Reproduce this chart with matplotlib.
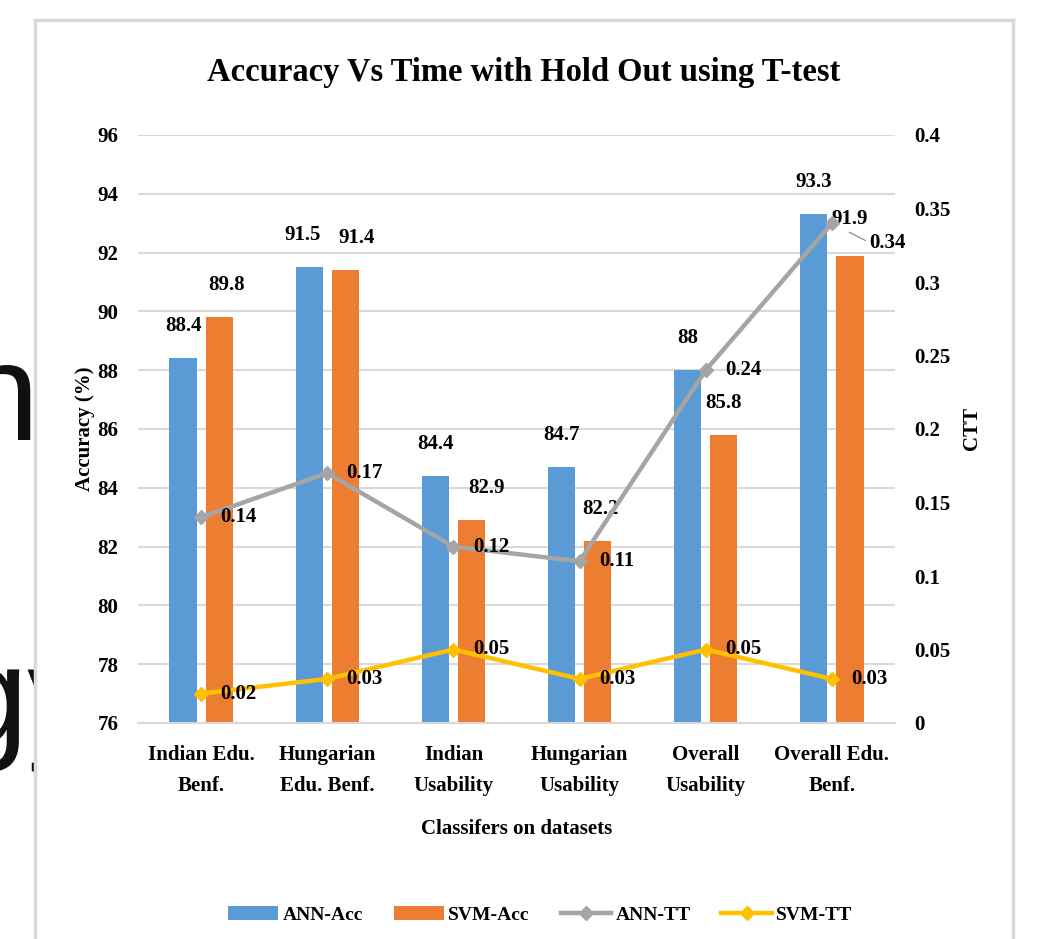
import matplotlib
matplotlib.use("Agg")
import matplotlib.pyplot as plt
import numpy as np

categories = ["Indian Edu.\nBenf.", "Hungarian\nEdu. Benf.", "Indian\nUsability",
              "Hungarian\nUsability", "Overall\nUsability", "Overall Edu.\nBenf."]
ann_acc = [88.4, 91.5, 84.4, 84.7, 88.0, 93.3]
svm_acc = [89.8, 91.4, 82.9, 82.2, 85.8, 91.9]
ann_tt = [0.14, 0.17, 0.12, 0.11, 0.24, 0.34]
svm_tt = [0.02, 0.03, 0.05, 0.03, 0.05, 0.03]
ann_acc_labels = ["88.4", "91.5", "84.4", "84.7", "88", "93.3"]
svm_acc_labels = ["89.8", "91.4", "82.9", "82.2", "85.8", "91.9"]
ann_tt_labels = ["0.14", "0.17", "0.12", "0.11", "0.24", "0.34"]
svm_tt_labels = ["0.02", "0.03", "0.05", "0.03", "0.05", "0.03"]
left_ticks = [76, 78, 80, 82, 84, 86, 88, 90, 92, 94, 96]
right_ticks = [0, 0.05, 0.1, 0.15, 0.2, 0.25, 0.3, 0.35, 0.4]
right_tick_labels = ["0", "0.05", "0.1", "0.15", "0.2", "0.25", "0.3", "0.35", "0.4"]

# label layout nudges (points)
ann_lbl_dx = [0, -5, 0, 0, 0, 0]
svm_lbl_dx = [5, 8, 11, 2, 0, 0]
svm_lbl_dy = [23, 23, 23, 23, 23, 26]

BLUE = "#5B9BD5"
ORANGE = "#ED7D31"
GRAY = "#A5A5A5"
YELLOW = "#FFC000"
GRID = "#D9D9D9"
SERIF = "Liberation Serif"

W, H = 1040, 939
fig = plt.figure(figsize=(W / 100, H / 100), dpi=100)

# background text partly hidden behind the chart frame
fig.text(-38 / W, 1 - 440 / H, "n", fontsize=100, family="Liberation Sans",
         color="#111111", zorder=0.2, va="baseline")
fig.text(-50 / W, 1 - 743 / H, "gy", fontsize=100, family="Liberation Sans",
         color="#111111", zorder=0.2, va="baseline")

# chart frame
frame = fig.add_axes([35 / W, -0.05, (1013 - 35) / W, (H - 20) / H + 0.05])
frame.set_zorder(1)
frame.set_facecolor("white")
frame.set_xticks([])
frame.set_yticks([])
for s in frame.spines.values():
    s.set_color(GRID)
    s.set_linewidth(2.5)

ax = fig.add_axes([138 / W, 216 / H, (895 - 138) / W, (723 - 135) / H])
ax.set_zorder(2)
ax.patch.set_visible(False)

x = np.arange(len(categories))
bw = 0.215
off = 0.143
b1 = ax.bar(x - off, [v - 76 for v in ann_acc], bw, bottom=76, color=BLUE, label="ANN-Acc", zorder=2)
b2 = ax.bar(x + off, [v - 76 for v in svm_acc], bw, bottom=76, color=ORANGE, label="SVM-Acc", zorder=2)
ax.set_xlim(-0.5, len(categories) - 0.5)
ax.set_ylim(76, 96)
ax.set_yticks(left_ticks)
ax.set_yticklabels([str(t) for t in left_ticks], family=SERIF, fontweight="bold", fontsize=15)
ax.yaxis.grid(True, color=GRID, linewidth=1.5, zorder=0)
ax.set_axisbelow(True)
ax.tick_params(axis="y", length=0, pad=14)
ax.tick_params(axis="x", length=0, pad=16)
ax.set_xticks(x)
ax.set_xticklabels(categories, family=SERIF, fontweight="bold", fontsize=15, linespacing=1.75)
for s in ["top", "right", "left"]:
    ax.spines[s].set_visible(False)
ax.spines["bottom"].set_color(GRID)
ax.spines["bottom"].set_linewidth(1.5)
ax.set_ylabel("Accuracy (%)", family=SERIF, fontweight="bold", fontsize=15, labelpad=2)
ax.set_xlabel("Classifers on datasets", family=SERIF, fontweight="bold", fontsize=15, labelpad=16)

for i in range(len(categories)):
    ax.annotate(ann_acc_labels[i], (x[i] - off, ann_acc[i]), xytext=(ann_lbl_dx[i], 23),
                textcoords="offset points", ha="center", va="center",
                family=SERIF, fontweight="bold", fontsize=15)
    ax.annotate(svm_acc_labels[i], (x[i] + off, svm_acc[i]), xytext=(svm_lbl_dx[i], svm_lbl_dy[i]),
                textcoords="offset points", ha="center", va="center",
                family=SERIF, fontweight="bold", fontsize=15, zorder=5)

ax2 = ax.twinx()
ax2.set_zorder(3)
ax2.patch.set_visible(False)
l1, = ax2.plot(x, ann_tt, color=GRAY, linewidth=3.2, marker="D", markersize=7, label="ANN-TT", zorder=3)
l2, = ax2.plot(x, svm_tt, color=YELLOW, linewidth=3.2, marker="D", markersize=7, label="SVM-TT", zorder=3)
ax2.set_ylim(0, 0.4)
ax2.set_yticks(right_ticks)
ax2.set_yticklabels(right_tick_labels, family=SERIF, fontweight="bold", fontsize=15)
ax2.tick_params(axis="y", length=0, pad=14)
for s in ax2.spines.values():
    s.set_visible(False)
ax2.set_ylabel("CTT", family=SERIF, fontweight="bold", fontsize=15, labelpad=8)

for i in range(len(categories)):
    if i == 5:
        ax2.annotate(ann_tt_labels[i], (x[i], ann_tt[i]), xytext=(27, -14),
                     textcoords="offset points", ha="left", va="center",
                     family=SERIF, fontweight="bold", fontsize=15,
                     arrowprops=dict(arrowstyle="-", color="#808080", lw=0.8,
                                     shrinkA=1, shrinkB=14, relpos=(0, 0.5)))
    else:
        ax2.annotate(ann_tt_labels[i], (x[i], ann_tt[i]), xytext=(14, 0),
                     textcoords="offset points", ha="left", va="center",
                     family=SERIF, fontweight="bold", fontsize=15)
    ax2.annotate(svm_tt_labels[i], (x[i], svm_tt[i]), xytext=(14, 0),
                 textcoords="offset points", ha="left", va="center",
                 family=SERIF, fontweight="bold", fontsize=15)

fig.text(524 / W, 1 - 72 / H, "Accuracy Vs Time with Hold Out using T-test",
         ha="center", va="center", family=SERIF, fontweight="bold", fontsize=23.5, zorder=5)

handles = [b1, b2, l1, l2]
leg = fig.legend(handles, [h.get_label() for h in handles], loc="center",
                 bbox_to_anchor=(540 / W, 1 - 915 / H), ncol=4, frameon=False,
                 prop={"family": SERIF, "weight": "bold", "size": 14},
                 handlelength=2.6, handletextpad=0.2, columnspacing=1.6)
leg.set_zorder(6)

fig.savefig("out.png", dpi=100)
